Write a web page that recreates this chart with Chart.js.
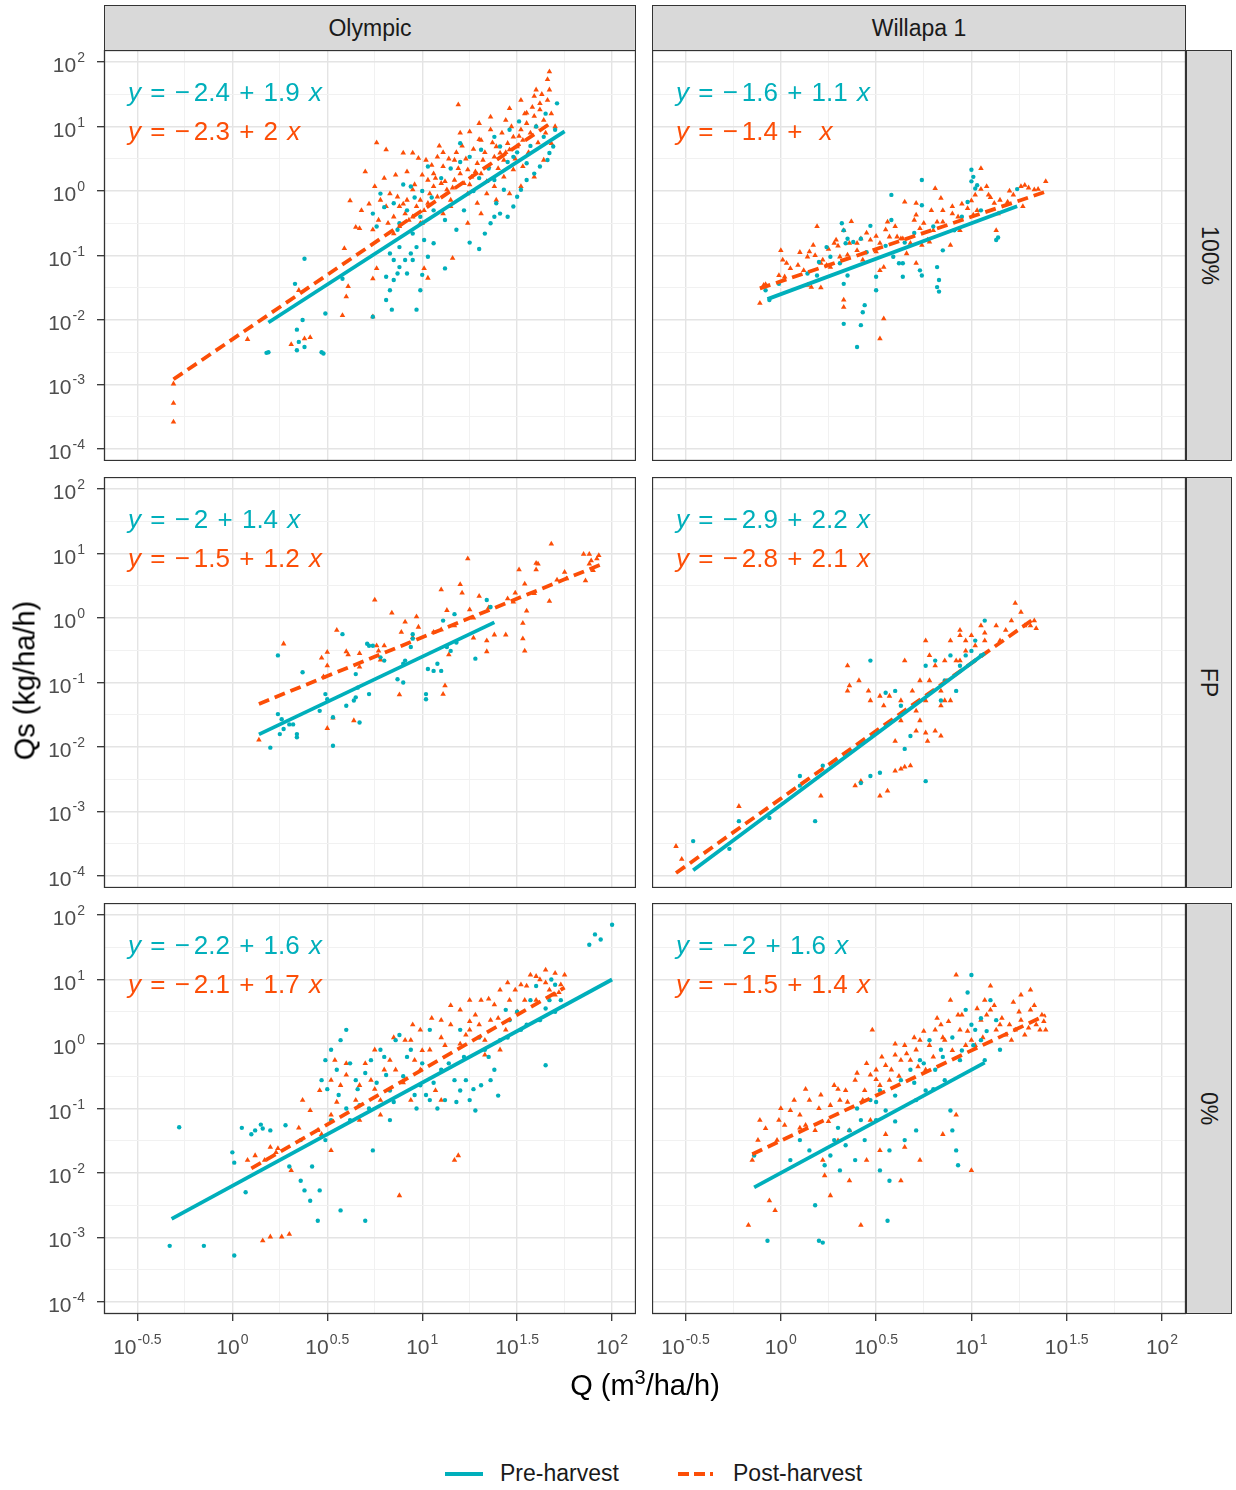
<!DOCTYPE html>
<html>
<head>
<meta charset="utf-8">
<script src="https://cdn.jsdelivr.net/npm/chart.js@4.4.1/dist/chart.umd.min.js"></script>
<style>
  body { margin: 0; background: #fff; font-family: "Liberation Sans", Arial, sans-serif; }
  #page { position: relative; width: 1236px; height: 1490px; overflow: hidden; }
  canvas { position: absolute; }
  .strip { position: absolute; box-sizing: border-box; background: #D9D9D9; border: 1.3px solid #333;
           color: #1A1A1A; font-size: 23px; display: flex; align-items: center; justify-content: center; }
  .strip.side span { transform: rotate(90deg); white-space: nowrap; }
  .eq { position: absolute; font-size: 26px; line-height: 30px; white-space: nowrap; word-spacing: 2px; }
  .eq i { font-style: italic; }
  .eq .m { margin-right: 4px; }
  .eq .gap { display: inline-block; width: 8px; }
  .title { position: absolute; font-size: 29px; color: #000; white-space: nowrap; }
  .title sup { font-size: 20px; }
  .leg { position: absolute; font-size: 23px; color: #1A1A1A; }
</style>
</head>
<body>
<div id="page"></div>
<script>
// axis breaks (log10 units) and their labels
const xMajor = [-0.5, 0, 0.5, 1, 1.5, 2];
const xLabels = ["-0.5", "0", "0.5", "1", "1.5", "2"];
const yMajor = [-4, -3, -2, -1, 0, 1, 2];
const yLabels = ["-4", "-3", "-2", "-1", "0", "1", "2"];
const xLimits = [-0.676, 2.126];
const yLimits = [-4.187, 2.187];

const sites = ["Olympic", "Willapa 1"];
const treatments = ["100%", "FP", "0%"];

// regression fits per panel: Olympic 100%, Willapa 100%, Olympic FP, Willapa FP, Olympic 0%, Willapa 0%
const preInt = [-2.4, -1.6, -2, -2.9, -2.2, -2];
const preSlope = [1.9, 1.1, 1.4, 2.2, 1.6, 1.6];
const postInt = [-2.3, -1.4, -1.5, -2.8, -2.1, -1.5];
const postSlope = [2, 1, 1.2, 2.1, 1.7, 1.4];
const preRange = [[0.19, 1.75], [-0.07, 1.24], [0.14, 1.38], [-0.46, 1.07], [-0.32, 2.0], [-0.14, 1.07]];
const postRange = [[-0.31, 1.67], [-0.11, 1.39], [0.14, 1.94], [-0.55, 1.33], [0.1, 1.75], [-0.15, 1.39]];

// observations, log10(Q), log10(Qs) pairs
const olyPre100 = [
  0.18,-2.51, 0.34,-2.47, 0.38,-2.42, 0.35,-2.34, 0.37,-2.0, 0.34,-2.15, 0.48,-2.52, 0.38,-1.05, 0.33,-1.44, 0.49,-1.9,
  0.58,-1.36, 0.74,-1.95, 0.84,-1.84, 0.97,-1.84, 0.81,-1.69, 0.83,-1.54, 0.85,-1.38, 0.87,-1.28, 0.88,-1.18, 0.91,-1.07,
  0.94,-0.97, 0.97,-0.87, 1.01,-0.76, 1.03,-1.02, 1.06,-0.81, 0.85,-1.07, 0.83,-0.97, 0.88,-0.87, 0.92,-1.28, 0.95,-1.07,
  0.99,-1.54, 0.81,-1.33, 0.78,-0.04, 0.85,-0.19, 0.94,0.07, 1.03,0.38, 0.99,-0.4, 1.06,-0.3, 0.76,-0.55, 0.88,-0.5,
  0.95,-0.66, 0.74,-0.35, 1.33,-0.66, 1.36,-0.5, 1.38,-0.4, 1.41,-0.35, 1.45,-0.4, 1.48,-0.24, 1.5,-0.09, 1.52,0.02,
  1.55,0.17, 1.59,0.27, 1.62,0.38, 1.66,0.48, 1.67,0.59, 1.69,0.69, 1.71,1.36, 1.64,0.84, 1.55,0.43, 1.48,0.53,
  1.41,0.69, 1.38,0.84, 1.31,0.64, 1.25,0.53, 1.2,0.74, 1.38,0.17, 1.43,0.02, 1.39,-0.19, 1.46,0.95, 1.51,1.08,
  0.19,-2.5, 0.47,-2.5, 0.9,0.1, 0.96,-0.1, 1.1,0.2, 1.15,0.35, 1.2,0.45, 0.8,-0.25,
  1.0,0.0, 1.05,-0.1, 1.12,-0.45, 1.18,-0.6, 1.22,-0.3, 1.27,0.0, 1.3,0.2, 1.35,0.35, 1.45,0.45, 1.5,0.6,
  1.57,0.7, 1.6,1.0, 1.65,1.2, 1.7,0.95, 1.25,-0.8, 1.3,-0.9, 0.92,-0.3, 0.87,-0.6, 1.12,-1.2, 1.0,-1.3
];
const olyPost100 = [
  -0.31,-2.99, -0.31,-3.29, -0.31,-3.58, 0.08,-2.3, 0.31,-2.38, 0.38,-2.29, 0.41,-2.27, 0.35,-1.54, 0.58,-1.93, 0.61,-1.48,
  0.6,-1.64, 0.59,-0.89, 0.74,-1.95, 0.76,-1.2, 0.74,-1.36, 0.65,-0.56, 0.67,-0.58, 0.76,0.75, 0.81,0.64, 0.9,0.59,
  0.95,0.59, 0.98,0.51, 1.02,0.48, 1.11,0.6, 1.08,0.53, 1.19,1.34, 1.16,-1.04, 1.03,-1.35, 1.01,-1.2,
  0.75,0.07, 0.78,-0.14, 0.81,-0.24, 0.85,-0.4, 0.77,-0.45, 0.83,-0.04, 0.87,-0.09, 0.88,-0.24, 0.91,-0.35, 0.93,-0.45,
  0.95,-0.4, 0.97,-0.24, 0.99,-0.14, 1.01,-0.3, 1.03,-0.19, 1.04,-0.04, 1.06,0.07, 1.08,-0.09, 1.1,0.12, 1.13,0.02,
  1.15,-0.14, 1.17,0.17, 1.2,0.27, 1.22,0.12, 1.24,0.33, 1.26,0.22, 1.29,0.43, 1.31,0.27, 1.32,0.48, 1.35,0.38,
  1.38,0.53, 1.39,0.69, 1.41,0.59, 1.43,0.48, 1.45,0.74, 1.46,0.64, 1.48,0.84, 1.5,0.69, 1.52,0.95, 1.53,0.79,
  1.55,1.05, 1.57,0.9, 1.59,1.16, 1.6,1.0, 1.62,1.26, 1.64,1.1, 1.66,1.41, 1.67,1.57, 1.66,1.73, 1.67,1.85,
  1.62,1.36, 1.55,1.21, 1.52,1.41, 1.46,1.28, 1.59,1.47, 1.6,1.57, 1.2,0.9, 1.25,0.92, 1.36,0.95, 1.31,0.79,
  1.17,0.48, 1.11,0.38, 1.06,0.27, 1.03,0.17, 0.95,0.02, 0.92,-0.14, 0.88,-0.55, 0.85,-0.66, 0.99,-0.5, 1.11,-0.35,
  1.15,-0.24, 1.24,-0.04, 1.29,-0.19, 1.34,-0.04, 1.38,0.07, 1.43,0.22, 1.48,0.33, 1.53,0.38, 1.24,-0.5, 1.31,-0.35,
  1.39,-0.14, 1.46,-0.04, 1.52,0.07, 1.59,0.22, 1.64,0.48, 1.68,0.74,
  0.72,-0.2, 0.74,-0.6, 0.8,0.2, 0.82,-0.5, 0.86,0.25, 0.9,-0.2, 0.92,0.3, 0.96,0.1, 1.0,0.25, 1.0,-0.5,
  1.05,0.4, 1.07,0.2, 1.09,0.7, 1.12,0.15, 1.14,0.5, 1.16,0.05, 1.18,0.6, 1.19,0.35, 1.21,0.7, 1.23,0.5,
  1.25,0.1, 1.27,0.65, 1.28,0.3, 1.3,0.8, 1.33,0.6, 1.34,0.15, 1.37,0.75, 1.4,0.35, 1.42,0.9, 1.44,0.6,
  1.47,1.0, 1.49,0.5, 1.51,0.85, 1.54,1.2, 1.56,0.6, 1.58,1.3, 1.61,0.75, 1.63,1.5, 1.65,0.9, 1.68,1.2,
  1.7,1.0, 1.44,1.1, 1.36,1.15, 1.3,1.05, 0.62,-0.15, 0.68,-0.3, 0.7,0.3
];
const wilPre100 = [
  -0.08,-1.54, -0.06,-1.69, -0.01,-1.44, 0.14,-1.28, 0.19,-1.31, 0.24,-0.87, 0.26,-1.02, 0.31,-1.12, 0.32,-0.5, 0.33,-0.61,
  0.34,-0.81, 0.33,-1.44, 0.35,-1.31, 0.35,-0.74, 0.38,-0.79, 0.42,-0.74, 0.33,-2.06, 0.42,-2.08, 0.43,-1.88, 0.44,-1.77,
  0.4,-2.42, 0.47,-0.54, 0.5,-1.33, 0.5,-1.54, 0.58,-0.06, 0.58,-0.45, 0.59,-1.02, 0.62,-1.12, 0.64,-1.12, 0.64,-1.33,
  0.73,-1.23, 0.74,-1.31, 0.74,-0.22, 0.74,0.17, 0.82,-1.18, 0.83,-1.38, 0.82,-1.49, 0.83,-1.56, 0.85,-0.92, 0.91,-0.61,
  0.98,-0.17, 1.0,0.15, 1.0,0.33, 1.01,0.22, 1.02,0.04, 1.03,0.09, 1.13,-0.76, 1.14,-0.72, 1.24,0.03,
  0.2,-1.1, 0.45,-0.95, 0.55,-0.85, 0.65,-0.8, 0.7,-0.65, 0.8,-0.55, 0.95,-0.4, 1.05,-0.3
];
const wilPost100 = [
  -0.11,-1.74, -0.09,-1.46, -0.08,-1.45, 0.0,-0.92, -0.01,-1.31, 0.02,-1.33, 0.03,-1.12, 0.01,-1.07, 0.09,-1.15, 0.12,-1.23,
  0.14,-1.02, 0.15,-0.94, 0.17,-0.84, 0.19,-0.55, 0.21,-1.12, 0.22,-1.07, 0.24,-1.15, 0.26,-1.18, 0.14,-1.46, 0.16,-1.49,
  0.21,-1.5, 0.28,-0.81, 0.31,-1.02, 0.33,-0.61, 0.35,-0.99, 0.37,-0.47, 0.36,-0.81, 0.4,-0.92, 0.42,-0.74, 0.43,-1.07,
  0.47,-0.76, 0.5,-0.94, 0.52,-0.81, 0.54,-1.18, 0.56,-0.48, 0.57,-0.71, 0.61,-0.71, 0.63,-0.74, 0.65,-0.17, 0.66,-0.97,
  0.68,-0.81, 0.71,-1.12, 0.71,-0.19, 0.71,-0.37, 0.73,-0.58, 0.74,-0.84, 0.78,-0.79, 0.79,-0.3, 0.8,-0.61, 0.81,0.04,
  0.82,-0.48, 0.84,-0.11, 0.85,-0.48, 0.89,-0.84, 0.9,-0.24, 0.93,-0.4, 0.94,-0.61, 0.98,-0.27, 1.01,-0.37, 1.02,-0.06,
  1.03,-0.3, 1.05,0.03, 1.05,0.35, 1.08,0.07, 1.09,-0.06, 1.12,-0.19, 1.14,-0.35, 1.15,-0.14, 1.19,-0.17, 1.22,-0.06,
  1.26,0.07, 1.28,0.09, 1.33,0.02, 1.35,0.03, 1.39,0.15, 1.27,-0.24, 1.13,-0.61, 0.33,-1.69, 0.33,-1.8, 0.54,-1.98,
  0.52,-2.29, 0.29,-0.76, 0.4,-0.81, 0.52,-1.23, 0.64,-0.74, 0.77,-0.76,
  0.05,-1.2, 0.1,-0.95, 0.18,-1.0, 0.25,-0.9, 0.3,-0.85, 0.45,-0.65, 0.5,-0.7, 0.55,-0.6, 0.6,-0.55, 0.7,-0.45,
  0.75,-0.5, 0.85,-0.3, 0.9,-0.35, 0.95,-0.2, 1.0,-0.15, 1.1,-0.1, 1.2,0.0, 1.3,0.05
];
const olyPreFP = [
  0.2,-2.01, 0.24,-0.58, 0.24,-1.49, 0.26,-1.57, 0.27,-1.72, 0.25,-1.8, 0.3,-1.65, 0.32,-1.65, 0.34,-1.8, 0.34,-1.85,
  0.37,-0.84, 0.46,-1.44, 0.49,-1.18, 0.5,-1.26, 0.53,-1.98, 0.53,-1.54, 0.58,-0.25, 0.6,-1.36, 0.65,-0.87, 0.65,-1.23,
  0.64,-1.28, 0.66,-1.08, 0.67,-1.62, 0.72,-1.18, 0.71,-0.4, 0.72,-0.43, 0.74,-0.43, 0.78,-0.61, 0.8,-0.66, 0.87,-0.95,
  0.9,-1.0, 0.9,-0.71, 0.91,-0.66, 0.94,-0.45, 0.95,-0.32, 0.95,-0.25, 1.02,-1.18, 1.02,-1.26, 1.03,-0.79, 1.06,-0.82,
  1.08,-0.71, 1.1,-0.82, 1.11,-0.04, 1.13,-0.45, 1.15,-0.51, 1.17,0.06, 1.18,-0.38, 1.28,-0.63, 1.34,0.28, 1.36,0.17
];
const olyPostFP = [
  0.14,-1.89, 0.27,-0.4, 0.47,-0.62, 0.5,-0.74, 0.5,-0.53, 0.48,-0.91, 0.53,-1.55, 0.5,-1.71, 0.55,-0.19, 0.61,-0.57,
  0.6,-0.52, 0.67,-0.55, 0.64,-1.59, 0.67,-0.76, 0.75,0.28, 0.76,-0.43, 0.77,-0.51, 0.78,-0.65, 0.8,-0.43, 0.84,0.08,
  0.88,-1.19, 0.91,-0.06, 0.89,-0.22, 0.95,-0.3, 0.97,0.02, 0.98,-0.14, 1.06,-0.22, 1.1,-0.18, 1.1,0.44, 1.11,-1.18,
  1.12,-1.05, 1.13,0.12, 1.14,-0.57, 1.17,-0.12, 1.2,0.52, 1.21,0.39, 1.24,0.92, 1.25,0.13, 1.27,0.0, 1.27,-0.31,
  1.3,0.34, 1.34,-0.35, 1.34,-0.52, 1.35,0.16, 1.38,-0.26, 1.44,-0.26, 1.45,0.3, 1.48,0.25, 1.49,0.39, 1.51,0.75,
  1.53,-0.08, 1.53,-0.32, 1.54,-0.51, 1.54,0.53, 1.55,0.11, 1.59,0.38, 1.6,0.75, 1.6,0.85, 1.61,0.84, 1.67,0.26,
  1.68,1.15, 1.71,0.59, 1.75,0.71, 1.76,0.61, 1.86,0.58, 1.85,0.99, 1.88,0.99, 1.89,0.89, 1.92,0.92, 1.93,0.97,
  1.88,0.84, 1.9,0.74
];
const wilPreFP = [
  -0.46,-3.46, -0.27,-3.58, -0.22,-3.15, -0.06,-3.1, 0.1,-2.45, 0.18,-3.15, 0.22,-2.29, 0.47,-0.66, 0.42,-2.56, 0.47,-2.45,
  0.52,-2.4, 0.55,-1.16, 0.6,-1.13, 0.63,-1.36, 0.65,-2.03, 0.68,-1.83, 0.76,-2.53, 0.76,-0.74, 0.81,-0.66, 0.89,-0.58,
  0.92,-1.13, 0.94,-0.74, 1.0,-0.51, 1.02,-0.35, 1.05,-0.58, 1.07,-0.04, 0.97,-0.58, 0.84,-1.28, 0.86,-0.97, 0.1,-2.6
];
const wilPostFP = [
  -0.55,-3.54, -0.52,-3.74, -0.22,-2.92, 0.21,-2.76, 0.35,-0.74, 0.36,-1.05, 0.35,-1.13, 0.41,-0.97, 0.52,-1.21, 0.54,-1.36,
  0.39,-2.6, 0.42,-2.53, 0.52,-2.76, 0.56,-2.68, 0.6,-2.37, 0.63,-2.34, 0.65,-2.31, 0.68,-2.29, 0.69,-1.13, 0.73,-1.59,
  0.76,-1.28, 0.78,-0.97, 0.81,-0.74, 0.84,-1.13, 0.86,-0.66, 0.89,-0.35, 0.76,-0.35, 0.78,-0.58, 0.92,-0.66, 0.94,-0.19,
  0.97,-0.35, 1.0,-0.27, 1.02,-0.43, 1.05,-0.12, 0.71,-1.75, 0.76,-1.78, 0.81,-1.75, 0.84,-1.83, 0.77,-1.91, 0.94,-0.66,
  0.97,-0.51, 0.63,-1.59, 0.65,-0.66, 0.71,-1.44, 0.84,-1.36, 0.89,-1.28, 1.07,-0.35, 1.15,-0.35, 1.18,-0.19, 1.21,-0.04,
  1.23,0.23, 1.26,0.09, 1.28,-0.12, 1.31,-0.12, 1.33,-0.04, 1.34,-0.16, 1.07,-0.23, 1.13,-0.12, 0.94,-0.27, 0.57,-1.21,
  0.6,-1.91, 0.47,-1.28, 0.46,-1.13, 0.63,-1.28, 0.73,-0.97, 0.86,-1.28
];
const olyPre0 = [
  -0.33,-3.13, -0.28,-1.29, -0.15,-3.13, 0.01,-3.28, 0.0,-1.68, 0.01,-1.84, 0.07,-2.3, 0.12,-1.34, 0.16,-1.31, 0.2,-1.34,
  0.28,-1.26, 0.36,-1.49, 0.38,-2.27, 0.41,-2.43, 0.46,-2.27, 0.45,-2.74, 0.49,-1.49, 0.52,-1.18, 0.47,-0.56, 0.49,-0.25,
  0.52,-0.09, 0.57,0.06, 0.6,0.22, 0.56,-0.79, 0.62,-1.18, 0.65,-0.56, 0.67,-0.95, 0.7,-2.74, 0.57,-2.58, 0.73,-0.25,
  0.78,-0.09, 0.81,-0.48, 0.83,-0.72, 0.86,0.06, 0.88,0.14, 0.94,-0.09, 0.96,-0.79, 0.99,-0.64, 1.02,-0.79, 1.04,-0.87,
  1.1,-0.4, 1.12,-0.87, 1.17,-0.56, 1.2,-0.72, 1.23,-0.56, 1.25,-0.87, 1.28,-1.03, 1.31,-0.64, 1.33,-0.09, 1.36,-0.56,
  1.38,-0.4, 1.41,0.06, 1.44,0.53, 1.46,0.37, 1.52,0.22, 1.57,0.68, 1.62,0.37, 1.65,-0.33, 1.67,0.68, 1.7,0.92,
  1.73,0.68, 1.88,1.54, 1.91,1.7, 1.94,1.62, 2.0,1.85, 1.04,0.22, 1.2,0.22, 0.83,-1.18, 0.74,-1.65, 0.36,-2.12,
  0.5,-0.7, 0.55,-0.4, 0.6,-1.0, 0.62,-0.3, 0.66,-0.7, 0.7,-0.45, 0.72,-1.0, 0.76,-0.6, 0.8,-0.2, 0.85,-0.9,
  0.9,-0.5, 0.92,-0.2, 0.97,-1.0, 1.0,-0.3, 1.06,-0.6, 1.08,-1.0, 1.14,-0.3, 1.18,-0.9, 1.22,-0.2, 1.27,-0.7,
  1.3,0.1, 1.35,-0.2, 1.4,-0.8, 1.45,0.1, 1.5,0.5, 1.55,0.3, 1.6,0.9, 1.65,0.55, 1.7,0.5, 1.68,1.0,
  0.05,-1.3, 0.1,-1.4, 0.15,-1.25, 0.42,-1.9, 0.3,-1.9
];
const olyPost0 = [
  0.16,-3.05, 0.2,-2.99, 0.26,-2.99, 0.3,-2.95, 0.08,-1.8, 0.12,-1.73, 0.17,-1.8, 0.23,-1.68, 0.24,-1.62, 0.37,-0.87,
  0.45,-1.34, 0.52,-1.1, 0.52,-0.56, 0.54,-0.25, 0.57,-0.64, 0.6,-0.48, 0.65,-0.87, 0.67,-0.64, 0.73,-0.56, 0.75,-0.09,
  0.78,-0.87, 0.83,-0.25, 0.86,-0.4, 0.88,-2.35, 0.91,0.06, 0.94,0.06, 0.96,-0.25, 0.99,0.22, 1.04,-0.09, 1.07,-0.72,
  1.1,0.37, 1.12,-0.02, 1.15,0.3, 1.17,-1.8, 1.19,-1.73, 1.2,0.53, 1.23,0.14, 1.25,0.22, 1.28,0.45, 1.31,0.68,
  1.33,0.06, 1.36,0.37, 1.38,0.61, 1.41,0.84, 1.44,0.22, 1.46,0.68, 1.49,0.84, 1.52,0.92, 1.54,0.68, 1.57,1.07,
  1.6,0.68, 1.62,1.0, 1.65,1.15, 1.67,0.84, 1.7,0.76, 1.73,0.92, 1.75,1.07, 1.33,-0.17, 1.41,-0.09, 1.25,0.68,
  0.99,-0.4, 1.1,-0.87, 0.67,-1.18, 0.41,-1.03, 0.46,-0.72, 0.31,-1.96, 0.52,-1.65, 0.78,-1.1, 0.94,-0.87,
  0.55,-0.9, 0.6,-0.3, 0.7,-0.3, 0.75,-0.7, 0.8,-0.4, 0.85,0.1, 0.9,-0.6, 0.95,0.3, 1.0,-0.1, 1.05,0.4,
  1.1,0.1, 1.15,0.6, 1.2,0.0, 1.25,0.35, 1.3,0.3, 1.35,0.7, 1.4,0.4, 1.45,0.95, 1.5,0.5, 1.55,0.9,
  1.6,1.05, 1.65,0.95, 1.7,1.1, 1.72,0.8, 0.47,-1.4, 0.35,-1.3, 0.2,-1.6
];
const wilPre0 = [
  -0.14,-1.73, -0.07,-3.05, 0.05,-1.8, 0.1,-1.49, 0.15,-1.65, 0.18,-2.5, 0.2,-3.05, 0.22,-3.08, 0.23,-1.88, 0.26,-1.73,
  0.28,-1.49, 0.31,-1.96, 0.34,-1.57, 0.36,-1.34, 0.39,-1.8, 0.42,-1.18, 0.44,-1.49, 0.47,-0.87, 0.5,-1.18, 0.52,-0.72,
  0.55,-1.03, 0.56,-2.74, 0.57,-1.65, 0.63,-0.56, 0.65,-1.49, 0.68,-0.4, 0.71,-0.87, 0.73,-0.25, 0.76,-0.72, 0.78,0.06,
  0.81,-0.4, 0.84,-0.09, 0.86,-0.56, 0.89,-1.03, 0.9,-1.34, 0.92,-1.65, 0.93,-1.88, 0.94,-0.25, 0.97,0.53, 1.0,1.07,
  1.01,-0.02, 1.02,0.22, 1.05,0.06, 1.07,-0.25, 1.1,0.68, 1.13,0.37, 1.15,-0.09, 0.57,-2.12, 0.52,-1.96, 0.71,-1.34,
  0.3,-1.3, 0.4,-1.0, 0.5,-0.9, 0.6,-0.8, 0.7,-0.6, 0.75,-0.3, 0.8,-0.7, 0.85,-0.2, 0.9,0.1, 0.95,-0.1,
  1.0,0.3, 1.05,0.4, 1.08,0.2, 0.98,0.8, 0.6,-1.2
];
const wilPost0 = [
  -0.17,-2.81, -0.15,-1.8, -0.12,-1.49, -0.11,-1.18, -0.08,-1.31, -0.06,-2.43, -0.03,-2.58, -0.02,-1.49, -0.01,-1.18, 0.02,-1.26,
  0.05,-1.03, 0.07,-0.87, 0.1,-1.1, 0.13,-1.26, 0.15,-0.87, 0.18,-1.34, 0.21,-0.79, 0.22,-1.8, 0.23,-2.04, 0.26,-0.95,
  0.28,-0.64, 0.31,-0.87, 0.34,-0.72, 0.36,-2.12, 0.39,-0.56, 0.42,-2.81, 0.43,-0.87, 0.44,-0.72, 0.47,-0.48, 0.48,0.22,
  0.5,-0.4, 0.52,-0.64, 0.55,-0.33, 0.57,-0.56, 0.6,-0.17, 0.63,-0.25, 0.65,-0.02, 0.68,-0.25, 0.71,-0.09, 0.73,0.06,
  0.76,-0.4, 0.78,-0.02, 0.81,0.22, 0.84,0.3, 0.86,0.06, 0.89,0.68, 0.92,1.07, 0.93,0.45, 0.94,0.22, 0.97,-0.02,
  1.0,0.06, 1.02,-0.02, 1.05,0.37, 1.07,0.68, 1.1,0.53, 1.13,0.22, 1.15,0.3, 1.18,0.14, 1.21,0.06, 1.23,0.22,
  1.26,0.37, 1.28,0.14, 1.31,0.84, 1.34,0.3, 1.36,0.22, 1.39,0.22, 1.31,0.53, 1.26,0.76, 0.52,-1.65, 0.63,-2.12,
  0.73,-1.8, 0.47,-1.18, 0.36,-1.34, 0.26,-2.35, 0.92,-1.1, 1.0,-1.96,
  0.45,-0.3, 0.5,-0.55, 0.53,-0.2, 0.58,-0.4, 0.6,0.0, 0.62,-0.5, 0.66,-0.15, 0.7,0.1, 0.72,-0.35, 0.75,0.2,
  0.8,-0.2, 0.82,0.4, 0.85,0.1, 0.88,0.35, 0.9,-0.1, 0.95,0.45, 0.98,0.2, 1.03,0.55, 1.06,0.1, 1.08,0.45,
  1.12,0.6, 1.16,0.4, 1.2,0.3, 1.22,0.65, 1.25,0.5, 1.3,0.25, 1.33,0.6, 1.37,0.45, 1.38,0.35, 1.1,0.9,
  0.2,-1.0, 0.25,-1.2, 0.3,-0.7, 0.35,-0.9, 0.4,-0.45, 0.1,-1.3, 0.0,-1.0, 0.13,-0.7,
  0.55,-1.4, 0.65,-1.6, 0.45,-1.8, 0.3,-1.5, 0.85,-1.4
];

const preData = [olyPre100, wilPre100, olyPreFP, wilPreFP, olyPre0, wilPre0];
const postData = [olyPost100, wilPost100, olyPostFP, wilPostFP, olyPost0, wilPost0];

const TEAL = "#00AFBB";
const ORANGE = "#FC4E07";
const FONT = '"Liberation Sans", Arial, sans-serif';

// page geometry
const colLeft = [104, 652];
const colWidth = [532, 534];
const rowTop = [50, 477, 903];
const panelH = 411;

const page = document.getElementById("page");

function toPoints(flat) {
    const pts = [];
    for (let i = 0; i < flat.length; i += 2) {
        pts.push({ x: flat[i], y: flat[i + 1] });
    }
    return pts;
}

function fitLine(a, b, range) {
    return range.map(x => ({ x: x, y: a + b * x }));
}

// majors plus the half-way minor breaks
function withMinors(majors) {
    const out = [];
    majors.forEach((v, i) => {
        out.push(v);
        if (i < majors.length - 1) out.push((v + majors[i + 1]) / 2);
    });
    return out;
}

function isMajor(list, v) {
    return list.some(m => Math.abs(m - v) < 1e-6);
}

function drawPower(ctx, exp, x, baseY, align) {
    const big = "21px " + FONT;
    const small = "14px " + FONT;
    ctx.font = big;
    const w1 = ctx.measureText("10").width;
    ctx.font = small;
    const w2 = ctx.measureText(exp).width;
    const total = w1 + 1 + w2;
    const left = align === "right" ? x - total : x - total / 2;
    ctx.textAlign = "left";
    ctx.textBaseline = "alphabetic";
    ctx.font = big;
    ctx.fillText("10", left, baseY);
    ctx.font = small;
    ctx.fillText(exp, left + w1 + 1, baseY - 10);
}

const panelDecor = {
    id: "panelDecor",
    afterDraw(chart, args, opts) {
        const { ctx, chartArea: a, scales } = chart;
        ctx.save();
        ctx.strokeStyle = "#333333";
        ctx.lineWidth = 1.3;
        ctx.strokeRect(a.left + 0.5, a.top + 0.5, a.right - a.left - 1, a.bottom - a.top - 1);
        ctx.fillStyle = "#4D4D4D";
        if (opts.showY) {
            yMajor.forEach((v, i) => {
                const py = scales.y.getPixelForValue(v);
                drawPower(ctx, yLabels[i], a.left - 19, py + 10, "right");
            });
        }
        if (opts.showX) {
            xMajor.forEach((v, i) => {
                const px = scales.x.getPixelForValue(v);
                drawPower(ctx, xLabels[i], px, a.bottom + 40, "center");
            });
        }
        ctx.restore();
    }
};

function axis(majors, limits, showLabels, horizontal) {
    const ticks = withMinors(majors);
    return {
        type: "linear",
        min: limits[0],
        max: limits[1],
        afterBuildTicks: s => { s.ticks = ticks.map(v => ({ value: v })); },
        afterFit: s => {
            if (horizontal) s.height = showLabels ? 60 : 0;
            else s.width = showLabels ? 104 : 0;
        },
        ticks: { display: false },
        border: { display: false },
        grid: {
            drawTicks: showLabels,
            tickLength: 7,
            color: c => isMajor(majors, c.tick.value) ? "#E4E4E4" : "#F1F1F1",
            lineWidth: c => isMajor(majors, c.tick.value) ? 1.4 : 1,
            tickColor: c => isMajor(majors, c.tick.value) ? "#333333" : "rgba(0,0,0,0)",
            tickWidth: 1.3
        }
    };
}

function fmt(v) {
    return String(Math.abs(v));
}

function equation(a, b, color) {
    const slope = b === 1 ? '<span class="gap"></span>' : fmt(b) + " ";
    return `<span style="color:${color}"><i>y</i> = <span class="m">−</span>${fmt(a)} + ${slope}<i>x</i></span>`;
}

for (let r = 0; r < 3; r++) {
    for (let c = 0; c < 2; c++) {
        const i = r * 2 + c;
        const showX = r === 2;
        const showY = c === 0;

        const canvas = document.createElement("canvas");
        const cw = showY ? colLeft[c] + colWidth[c] : colWidth[c];
        const ch = panelH + (showX ? 60 : 0);
        canvas.width = cw;
        canvas.height = ch;
        canvas.style.left = (showY ? 0 : colLeft[c]) + "px";
        canvas.style.top = rowTop[r] + "px";
        page.appendChild(canvas);

        new Chart(canvas, {
            type: "scatter",
            data: {
                datasets: [
                    {
                        data: fitLine(preInt[i], preSlope[i], preRange[i]),
                        showLine: true, borderColor: TEAL, borderWidth: 3.8,
                        pointRadius: 0, borderCapStyle: "butt", order: 1
                    },
                    {
                        data: fitLine(postInt[i], postSlope[i], postRange[i]),
                        showLine: true, borderColor: ORANGE, borderWidth: 3.8, borderDash: [11, 6],
                        pointRadius: 0, borderCapStyle: "butt", order: 1
                    },
                    {
                        data: toPoints(preData[i]),
                        pointStyle: "circle", pointRadius: 2.2, backgroundColor: TEAL,
                        borderWidth: 0, order: 2
                    },
                    {
                        data: toPoints(postData[i]),
                        pointStyle: "triangle", pointRadius: 3.2, backgroundColor: ORANGE,
                        borderWidth: 0, order: 2
                    }
                ]
            },
            options: {
                responsive: false,
                animation: false,
                layout: { padding: 0, autoPadding: false },
                plugins: {
                    legend: { display: false },
                    tooltip: { enabled: false },
                    panelDecor: { showX: showX, showY: showY }
                },
                scales: {
                    x: axis(xMajor, xLimits, showX, true),
                    y: axis(yMajor, yLimits, showY, false)
                }
            },
            plugins: [panelDecor]
        });

        // fitted equations
        const eqPre = document.createElement("div");
        eqPre.className = "eq";
        eqPre.style.left = (colLeft[c] + 24) + "px";
        eqPre.style.top = (rowTop[r] + 27) + "px";
        eqPre.innerHTML = equation(preInt[i], preSlope[i], TEAL);
        page.appendChild(eqPre);

        const eqPost = document.createElement("div");
        eqPost.className = "eq";
        eqPost.style.left = (colLeft[c] + 24) + "px";
        eqPost.style.top = (rowTop[r] + 66) + "px";
        eqPost.innerHTML = equation(postInt[i], postSlope[i], ORANGE);
        page.appendChild(eqPost);
    }
}

// facet strips
sites.forEach((s, c) => {
    const d = document.createElement("div");
    d.className = "strip";
    d.style.left = colLeft[c] + "px";
    d.style.top = "5px";
    d.style.width = colWidth[c] + "px";
    d.style.height = "46px";
    d.textContent = s;
    page.appendChild(d);
});
treatments.forEach((t, r) => {
    const d = document.createElement("div");
    d.className = "strip side";
    d.style.left = "1186px";
    d.style.top = rowTop[r] + "px";
    d.style.width = "46px";
    d.style.height = panelH + "px";
    d.innerHTML = `<span>${t}</span>`;
    page.appendChild(d);
});

// axis titles and legend
page.insertAdjacentHTML("beforeend", `
  <div class="title" style="left:445px;top:1366px;width:400px;text-align:center;">Q (m<sup>3</sup>/ha/h)</div>
  <div class="title" style="left:-175px;top:664px;width:400px;text-align:center;transform:rotate(-90deg);">Qs (kg/ha/h)</div>
  <svg style="position:absolute;left:443px;top:1470px;" width="42" height="8">
    <line x1="2" y1="4" x2="40" y2="4" stroke="${TEAL}" stroke-width="4"/>
  </svg>
  <div class="leg" style="left:500px;top:1460px;">Pre-harvest</div>
  <svg style="position:absolute;left:676px;top:1470px;" width="40" height="8">
    <line x1="2" y1="4" x2="37" y2="4" stroke="${ORANGE}" stroke-width="4" stroke-dasharray="11 5"/>
  </svg>
  <div class="leg" style="left:733px;top:1460px;">Post-harvest</div>
`);
</script>
</body>
</html>
